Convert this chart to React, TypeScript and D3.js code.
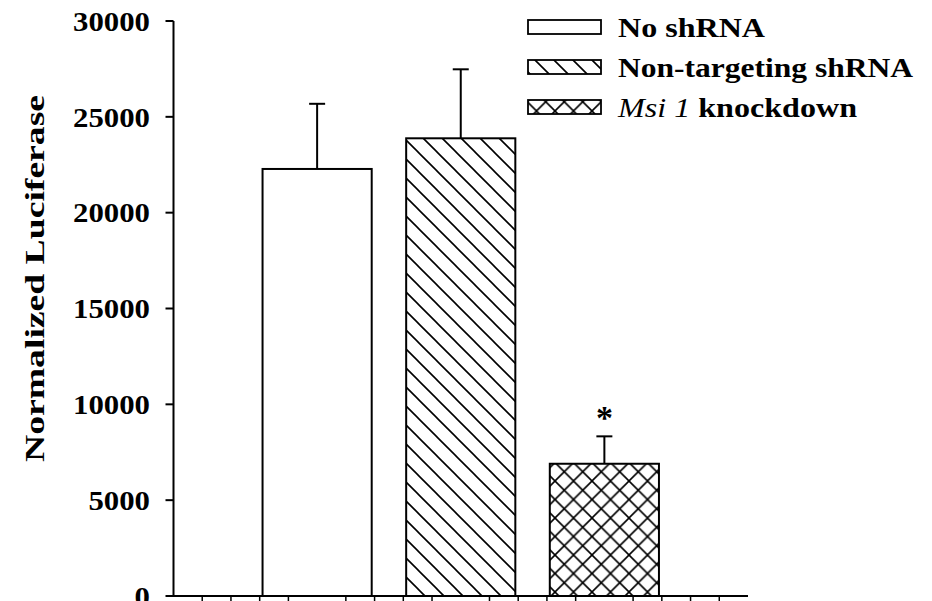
import React from "react";
import * as d3 from "d3";

const categories = ["No shRNA", "Non-targeting shRNA", "Msi 1 knockdown"];
const slots = [5, 10, 15];
const means = [22280, 23880, 6900];
const errors = [3400, 3600, 1430];
const yTicks = [0, 5000, 10000, 15000, 20000, 25000, 30000];
const xMinorTicks = [1, 2, 3, 4, 6, 7, 8, 9, 11, 12, 13, 14, 16, 17, 18, 19];
const fills = ["white", "url(#diag)", "url(#cross)"];
const legendWidths = [147, 295, 239];

const W = 932;
const H = 601;
const FONT = "'Liberation Serif', 'Times New Roman', serif";

export default function App() {
  const x = d3.scaleLinear().domain([0, 20]).range([173.5, 748]);
  const y = d3.scaleLinear().domain([0, 30000]).range([596, 21]);
  const barW = x(3.8) - x(0);
  const capW = 16;

  return (
    <svg width={W} height={H} style={{ position: "absolute", left: 0, top: 0, background: "white" }}>
      <defs>
        <pattern id="diag" patternUnits="userSpaceOnUse" width={19} height={19}>
          <rect width={19} height={19} fill="white" />
          <path d="M-2,-2 L21,21 M-2,17 L2,21 M17,-2 L21,2" stroke="black" strokeWidth={1.6} />
        </pattern>
        <pattern id="cross" patternUnits="userSpaceOnUse" width={18.5} height={18.5}>
          <rect width={18.5} height={18.5} fill="white" />
          <path
            d="M-2,-2 L20.5,20.5 M-2,16.5 L2,20.5 M16.5,-2 L20.5,2 M20.5,-2 L-2,20.5 M-2,2 L2,-2 M16.5,20.5 L20.5,16.5"
            stroke="black"
            strokeWidth={1.6}
          />
        </pattern>
      </defs>

      {/* bars */}
      {means.map((m, i) => {
        const cx = x(slots[i]);
        const top = y(m + errors[i]);
        return (
          <g key={categories[i]}>
            <line x1={cx} x2={cx} y1={y(m)} y2={top} stroke="black" strokeWidth={2} />
            <line x1={cx - capW / 2} x2={cx + capW / 2} y1={top} y2={top} stroke="black" strokeWidth={2} />
            <rect
              x={cx - barW / 2}
              y={y(m)}
              width={barW}
              height={y(0) - y(m)}
              fill={fills[i]}
              stroke="black"
              strokeWidth={2}
            />
          </g>
        );
      })}

      {/* significance */}
      <text
        x={x(slots[2])}
        y={y(means[2] + errors[2]) - 7}
        textAnchor="middle"
        fontFamily={FONT}
        fontWeight="bold"
        fontSize={34}
      >
        *
      </text>

      {/* y axis */}
      <line x1={x(0)} x2={x(0)} y1={y(30000)} y2={y(0) + 1} stroke="black" strokeWidth={2} />
      {yTicks.map((t) => (
        <g key={t}>
          <line x1={x(0) - 8} x2={x(0)} y1={y(t)} y2={y(t)} stroke="black" strokeWidth={2} />
          <g transform={`translate(150,${y(t)}) scale(1.14,1)`}>
            <text
              textAnchor="end"
              dy="0.36em"
              fontFamily={FONT}
              fontWeight="bold"
              fontSize={27}
            >
              {t}
            </text>
          </g>
        </g>
      ))}
      <text
        transform={`translate(44,278.5) rotate(-90)`}
        textAnchor="middle"
        fontFamily={FONT}
        fontWeight="bold"
        fontSize={28}
        textLength={367}
        lengthAdjust="spacingAndGlyphs"
      >
        Normalized Luciferase
      </text>

      {/* x axis */}
      <line x1={x(0) - 1} x2={x(20)} y1={y(0)} y2={y(0)} stroke="black" strokeWidth={2} />
      {xMinorTicks.map((t) => (
        <line key={t} x1={x(t)} x2={x(t)} y1={y(0)} y2={y(0) + 8} stroke="black" strokeWidth={1.5} />
      ))}

      {/* legend */}
      {categories.map((c, i) => {
        const ly = 20 + i * 40;
        return (
          <g key={c}>
            <rect x={528} y={ly} width={73} height={14} fill={fills[i]} stroke="black" strokeWidth={1.8} />
            <text
              x={618}
              y={ly + 16.5}
              fontFamily={FONT}
              fontWeight="bold"
              fontSize={27}
              textLength={legendWidths[i]}
              lengthAdjust="spacingAndGlyphs"
            >
              {i === 2 ? (
                <>
                  <tspan fontStyle="italic" fontWeight="normal">Msi 1</tspan>
                  <tspan> knockdown</tspan>
                </>
              ) : (
                c
              )}
            </text>
          </g>
        );
      })}
    </svg>
  );
}
